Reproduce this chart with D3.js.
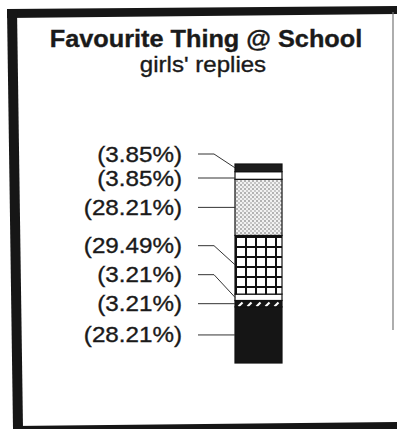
<!DOCTYPE html>
<html>
<head>
<meta charset="utf-8">
<script src="https://cdn.jsdelivr.net/npm/d3@7"></script>
<style>
  html, body { margin: 0; padding: 0; background: #fff; }
  svg { display: block; }
  text { font-family: "Liberation Sans", Arial, sans-serif; fill: #1a1a1a; stroke: #1a1a1a; stroke-width: 0.35; }
</style>
</head>
<body>
<svg id="chart" width="397" height="429"></svg>
<script>
// Stacked shares, listed from the bottom of the column to the top
const segments = ["s1", "s2", "s3", "s4", "s5", "s6", "s7"];
const shares = [28.21, 3.21, 3.21, 29.49, 28.21, 3.85, 3.85];
const fills = ["solid", "hatch", "blank", "grid", "dots", "blank", "dark"];
const columns = ["girls"];
const title = "Favourite Thing @ School";
const subtitle = "girls' replies";

const W = 397, H = 429;
const svg = d3.select("#chart");
const defs = svg.append("defs");

// Fill patterns
const dots = defs.append("pattern").attr("id", "p-dots")
  .attr("patternUnits", "userSpaceOnUse").attr("width", 4).attr("height", 4);
dots.append("rect").attr("width", 4).attr("height", 4).attr("fill", "#f2f2f2");
dots.append("circle").attr("cx", 1).attr("cy", 1).attr("r", 0.75).attr("fill", "#555");
dots.append("circle").attr("cx", 3).attr("cy", 3).attr("r", 0.65).attr("fill", "#777");

const grid = defs.append("pattern").attr("id", "p-grid")
  .attr("patternUnits", "userSpaceOnUse").attr("width", 10).attr("height", 10)
  .attr("x", 235).attr("y", 236);
grid.append("rect").attr("width", 10).attr("height", 10).attr("fill", "#fff");
grid.append("path").attr("d", "M1,0V10M0,1H10").attr("stroke", "#111").attr("stroke-width", 2);

const hatch = defs.append("pattern").attr("id", "p-hatch")
  .attr("patternUnits", "userSpaceOnUse").attr("width", 9).attr("height", 9)
  .attr("x", 237).attr("y", 300);
hatch.append("rect").attr("width", 9).attr("height", 9).attr("fill", "#151515");
hatch.append("path").attr("d", "M1.5,6.5L5.5,2.5").attr("stroke", "#fff").attr("stroke-width", 2.2);

const fillOf = {
  solid: "#151515",
  dark: "#1c1c1c",
  blank: "#fff",
  dots: "url(#p-dots)",
  grid: "url(#p-grid)",
  hatch: "url(#p-hatch)"
};

// Heavy frame round the chart
const frame = svg.append("g").attr("fill", "#161616");
frame.append("path").attr("d", "M7,9L397,6L397,14L7,18Z");
frame.append("path").attr("d", "M7,9L17,9L23,429L13,429Z");
frame.append("path").attr("d", "M13,426L397,422L397,429L13,429Z");
svg.append("line").attr("x1", 393).attr("x2", 393).attr("y1", 12).attr("y2", 330)
  .attr("stroke", "#777").attr("stroke-width", 1.2);

// Titles
svg.append("text").attr("transform", "translate(206,47) scale(1.1,1)")
  .attr("text-anchor", "middle").attr("font-size", 23).attr("font-weight", "bold")
  .attr("stroke-width", 0.5)
  .text(title);
svg.append("text").attr("transform", "translate(203,72) scale(1.12,1)")
  .attr("text-anchor", "middle").attr("font-size", 21.5)
  .text(subtitle);

// Scales
const total = d3.sum(shares);
const x = d3.scaleBand().domain(columns).range([235, 282]).padding(0);
const y = d3.scaleLinear().domain([0, total]).range([363, 164]);

const stacked = [];
let acc = 0;
shares.forEach((v, i) => {
  stacked.push({ key: segments[i], value: v, fill: fills[i], y0: acc, y1: acc + v });
  acc += v;
});

// Column segments
svg.append("g").selectAll("rect").data(stacked).join("rect")
  .attr("x", x("girls"))
  .attr("width", x.bandwidth())
  .attr("y", d => y(d.y1))
  .attr("height", d => y(d.y0) - y(d.y1))
  .attr("fill", d => fillOf[d.fill])
  .attr("stroke", "#111")
  .attr("stroke-width", 1.2);

// Label placement: start at segment middles, push upward to avoid overlaps,
// then keep the topmost label near the column top.
const topDown = stacked.slice().reverse().map(d => ({ ...d, mid: (y(d.y0) + y(d.y1)) / 2 }));
const n = topDown.length;
const pos = topDown.map(d => d.mid);
for (let i = n - 2; i >= 0; i--) pos[i] = Math.min(pos[i], pos[i + 1] - 29);
pos[0] = Math.max(pos[0], y(total) - 10);
for (let i = 1; i < n; i++) pos[i] = Math.max(pos[i], pos[i - 1] + 24);

const labelRight = 182, leadStart = 198, leadKnee = 214, barLeft = x("girls");

const lab = svg.append("g");
topDown.forEach((d, i) => {
  const ly = pos[i];
  const pts = Math.abs(ly - d.mid) < 3
    ? [[leadStart, ly], [barLeft, ly]]
    : [[leadStart, ly], [leadKnee, ly], [barLeft, d.mid]];
  lab.append("path")
    .attr("d", d3.line()(pts))
    .attr("fill", "none").attr("stroke", "#333").attr("stroke-width", 1);
  lab.append("text")
    .attr("transform", `translate(${labelRight},${ly + 7.5}) scale(1.1,1)`)
    .attr("text-anchor", "end")
    .attr("font-size", 22)
    .text(`(${d.value.toFixed(2)}%)`);
});
</script>
</body>
</html>
